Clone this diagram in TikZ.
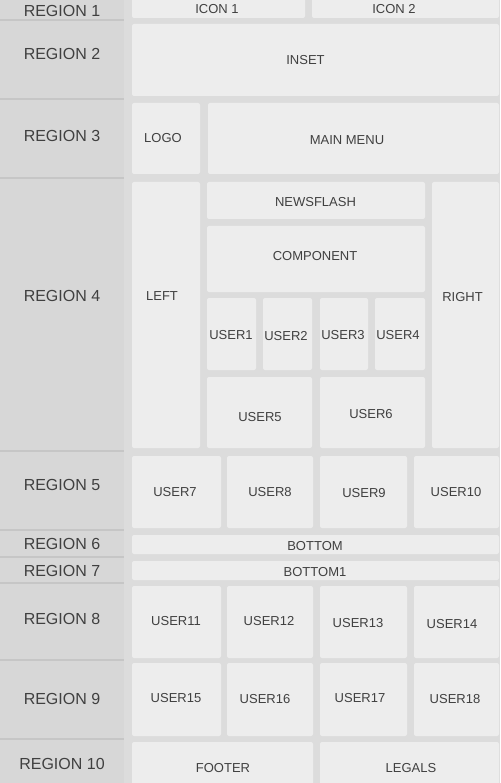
\documentclass[tikz,border=0pt]{standalone}
\usepackage{fontspec}
\setmainfont{Liberation Sans}
\definecolor{pagebg}{HTML}{DCDCDC}
\definecolor{leftbg}{HTML}{D7D7D7}
\definecolor{sepline}{HTML}{C6C6C6}
\definecolor{boxbg}{HTML}{EDEDED}
\definecolor{txt}{HTML}{404040}
% box: name, x1, y1, x2, y2, text, text x, text y
\newcommand\bx[8]{%
  \node[box,minimum width={#4-#2}, minimum height={#5-#3}] (#1) at ({(#2+#4)/2},{(#3+#5)/2}) {};
  \node[boxlabel] (#1-text) at (#7,#8) {#6};}
\newcommand\rg[3]{\node[reglabel] (#1) at (62,#2) {#3};}
\begin{document}
\begin{tikzpicture}[x=1pt,y=-1pt,
  box/.style={fill=boxbg, draw=none, rounded corners=2pt, inner sep=0pt, outer sep=0pt},
  boxlabel/.style={text=txt, font=\fontsize{13}{13}\selectfont, inner sep=0pt, yshift=-0.8pt},
  reglabel/.style={text=txt, font=\fontsize{16}{16}\selectfont, inner sep=0pt, yshift=-0.8pt},
  sep/.style={draw=sepline, line width=1.5pt}]
\fill[pagebg] (0,0) rectangle (500,783);
\useasboundingbox (0,0) rectangle (500,783);
\fill[leftbg] (0,0) rectangle (124,783);
\foreach \yy in {20,99,178,451,530,557,583,660,739}
  \draw[sep] (0,\yy) -- (124,\yy);
\rg{r1}{10}{REGION 1}
\rg{r2}{53}{REGION 2}
\rg{r3}{135}{REGION 3}
\rg{r4}{295}{REGION 4}
\rg{r5}{484}{REGION 5}
\rg{r6}{543}{REGION 6}
\rg{r7}{570}{REGION 7}
\rg{r8}{618}{REGION 8}
\rg{r9}{698}{REGION 9}
\rg{r10}{763}{REGION 10}
% row 1
\bx{icon1}{132}{-3}{305}{18}{ICON 1}{217}{8}
\bx{icon2}{312}{-3}{499}{18}{ICON 2}{394}{8}
% row 2
\bx{inset}{132}{24}{499}{96}{INSET}{305.5}{59}
% row 3
\bx{logo}{132}{103}{200}{174}{LOGO}{163}{137}
\bx{mainmenu}{208}{103}{499}{174}{MAIN MENU}{347}{139}
% row 4
\bx{left}{132}{182}{200}{448}{LEFT}{162}{295}
\bx{newsflash}{207}{182}{425}{219}{NEWSFLASH}{315.5}{201}
\bx{component}{207}{226}{425}{292}{COMPONENT}{315}{255}
\bx{user1}{207}{298}{256}{370}{USER1}{231}{334}
\bx{user2}{263}{298}{312}{370}{USER2}{286}{335}
\bx{user3}{320}{298}{368}{370}{USER3}{343}{334}
\bx{user4}{375}{298}{425}{370}{USER4}{398}{334}
\bx{user5}{207}{377}{312}{448}{USER5}{260}{416}
\bx{user6}{320}{377}{425}{448}{USER6}{371}{413}
\bx{right}{432}{182}{499}{448}{RIGHT}{462.5}{296}
% row 5
\bx{user7}{132}{456}{221}{528}{USER7}{175}{491}
\bx{user8}{227}{456}{313}{528}{USER8}{270}{491}
\bx{user9}{320}{456}{407}{528}{USER9}{364}{492}
\bx{user10}{414}{456}{499}{528}{USER10}{456}{491}
% rows 6, 7
\bx{bottom}{132}{535}{499}{554}{BOTTOM}{315}{545}
\bx{bottom1}{132}{561}{499}{580}{BOTTOM1}{315}{571}
% row 8
\bx{user11}{132}{586}{221}{658}{USER11}{176}{620}
\bx{user12}{227}{586}{313}{658}{USER12}{269}{620}
\bx{user13}{320}{586}{407}{658}{USER13}{358}{622}
\bx{user14}{414}{586}{499}{658}{USER14}{452}{623}
% row 9
\bx{user15}{132}{663}{221}{736}{USER15}{176}{697}
\bx{user16}{227}{663}{313}{736}{USER16}{265}{698}
\bx{user17}{320}{663}{407}{736}{USER17}{360}{697}
\bx{user18}{414}{663}{499}{736}{USER18}{455}{698}
% row 10
\bx{footer}{132}{742}{313}{790}{FOOTER}{223}{767}
\bx{legals}{320}{742}{499}{790}{LEGALS}{411}{767}
\end{tikzpicture}
\end{document}
